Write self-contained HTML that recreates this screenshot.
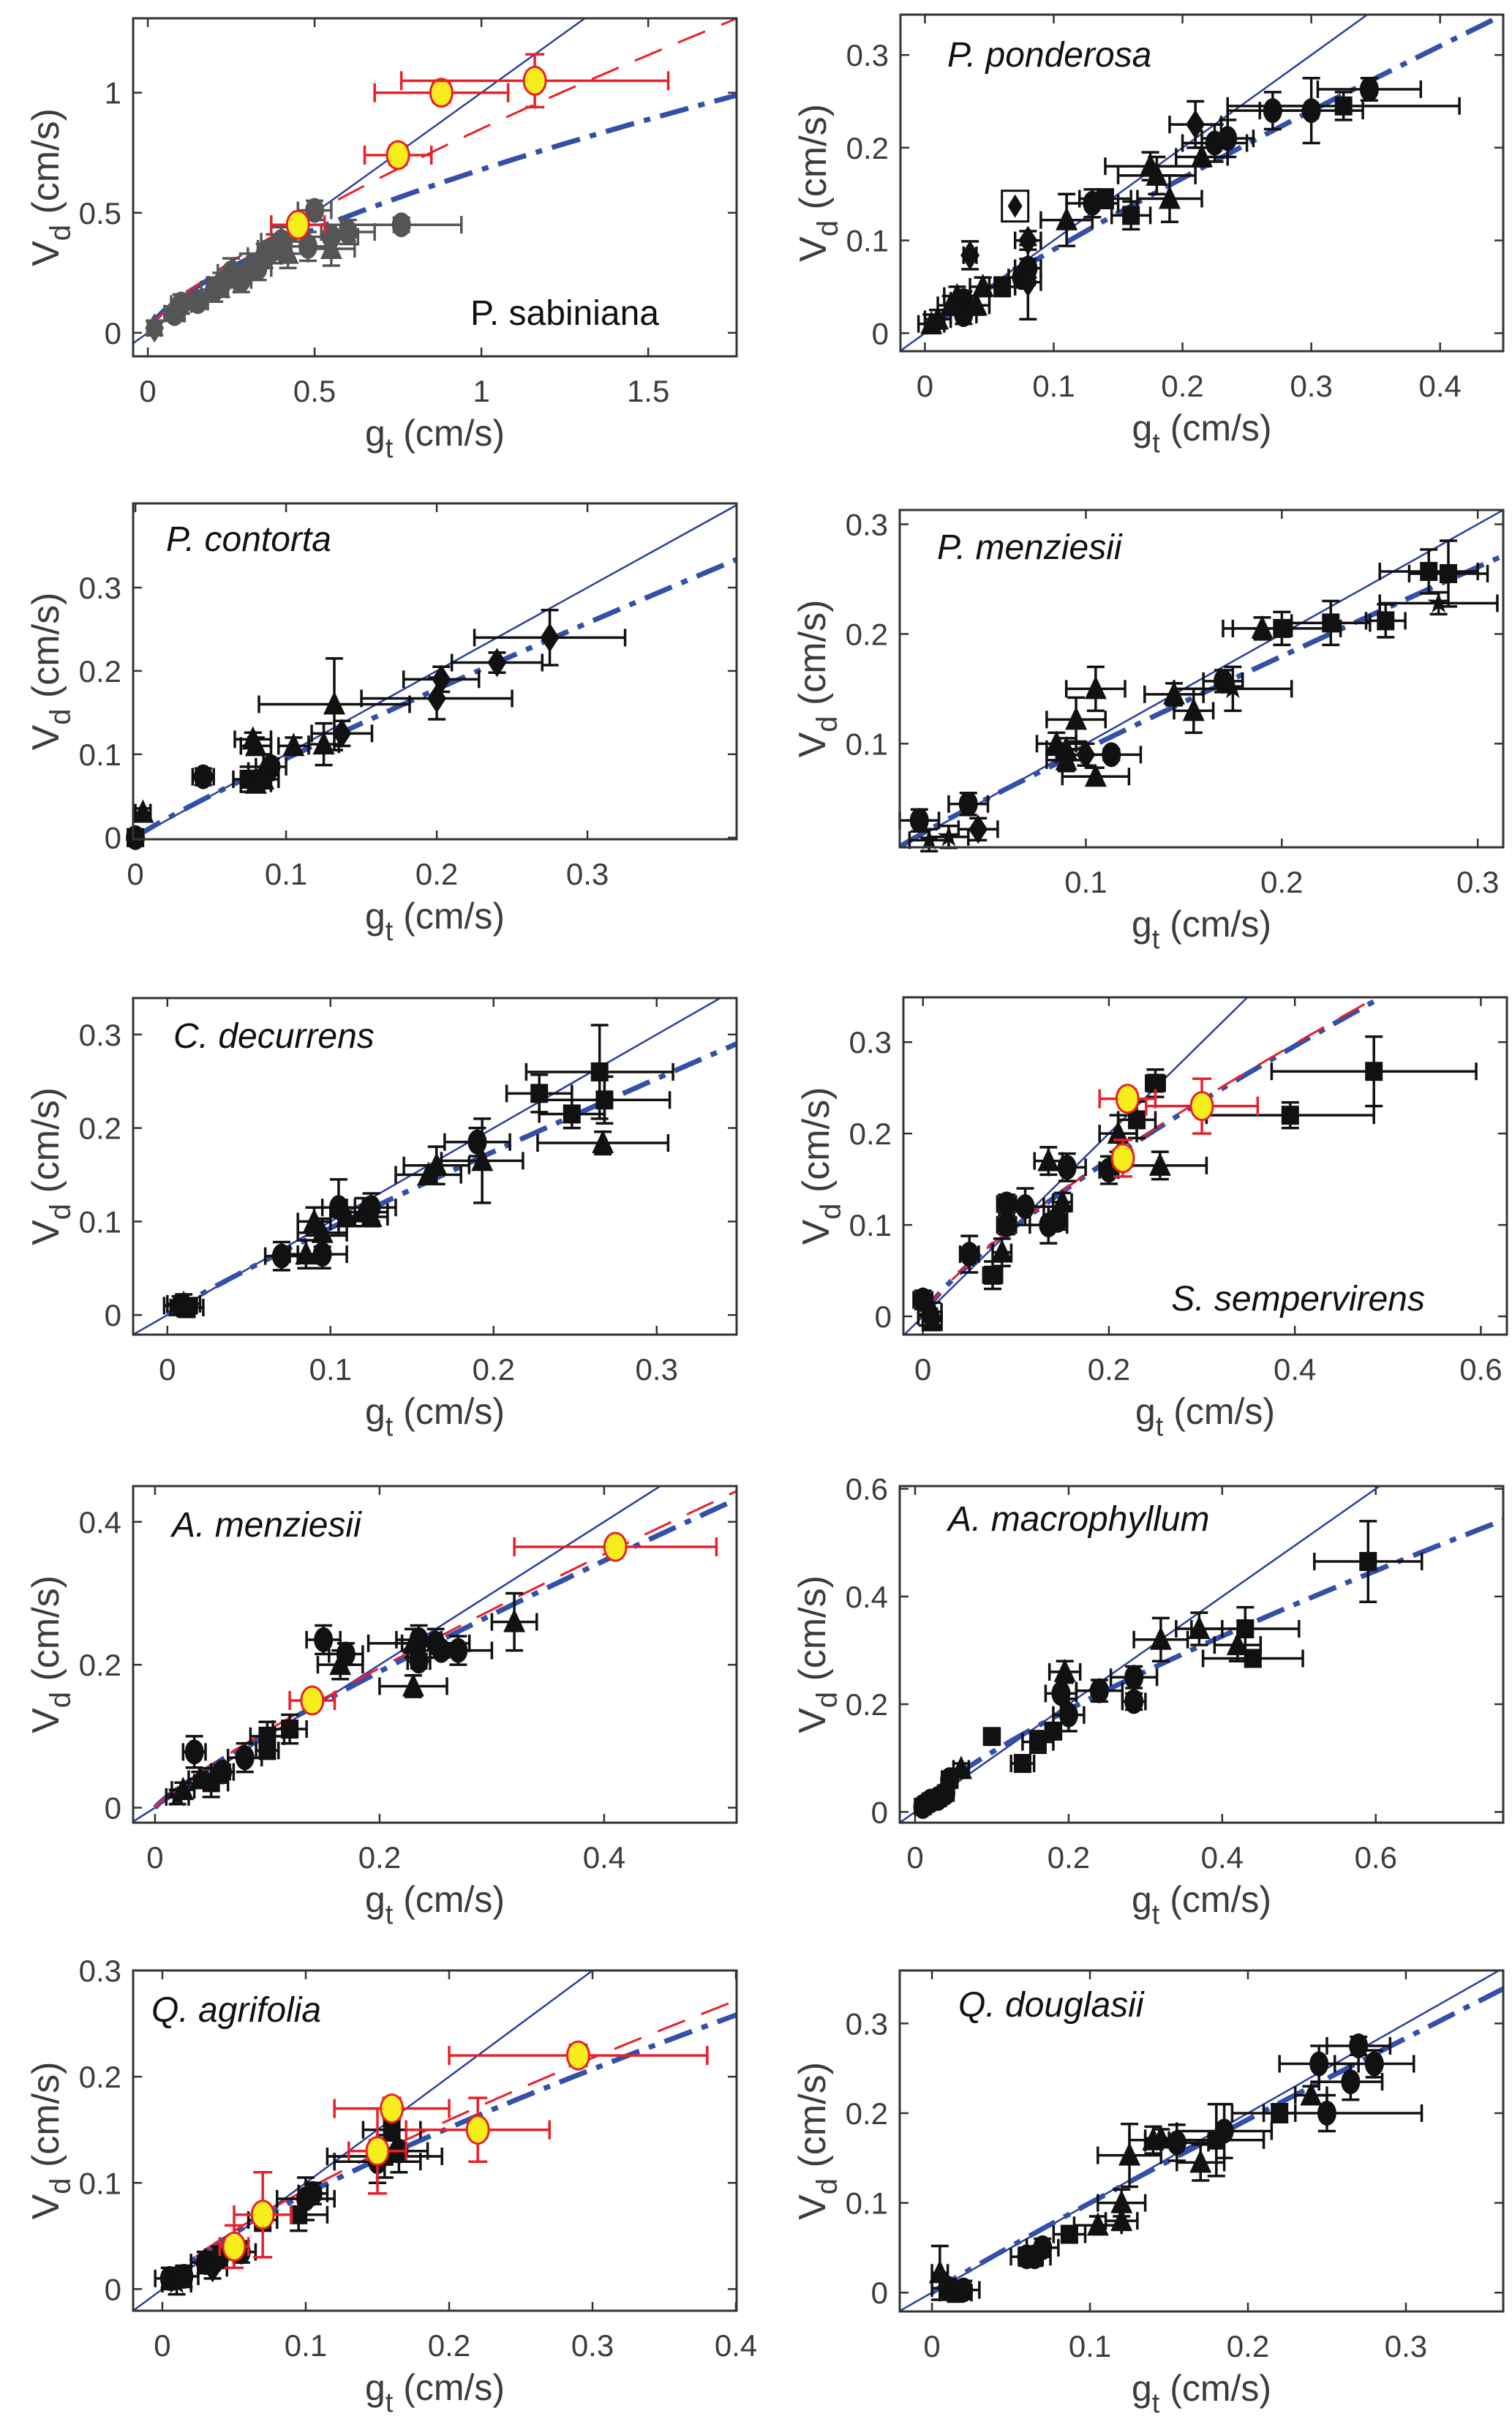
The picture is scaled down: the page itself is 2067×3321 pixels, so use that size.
<!DOCTYPE html>
<html><head><meta charset="utf-8"><style>
html,body{margin:0;padding:0;background:#fff;}
svg{display:block;}
</style></head><body>
<svg id="fig" width="2067" height="3321" viewBox="0 0 2067 3321" xmlns="http://www.w3.org/2000/svg"></svg>
<script>
// ---------- data (point tuples: x, y, xerr, yerr, marker) ----------
const sabinianaPts = [[0.02,0.02,0.02,0.03,'d'],[0.08,0.08,0.03,0.03,'c'],[0.1,0.12,0.03,0.04,'c'],[0.15,0.13,0.03,0.03,'c'],[0.2,0.18,0.04,0.05,'c'],[0.22,0.2,0.04,0.05,'c'],[0.25,0.25,0.04,0.06,'c'],[0.28,0.22,0.03,0.05,'c'],[0.3,0.28,0.04,0.05,'t'],[0.33,0.27,0.04,0.05,'c'],[0.35,0.32,0.05,0.05,'c'],[0.38,0.35,0.05,0.06,'c'],[0.4,0.38,0.06,0.06,'c'],[0.42,0.33,0.06,0.06,'t'],[0.48,0.36,0.07,0.06,'c'],[0.5,0.51,0.05,0.04,'c'],[0.55,0.4,0.08,0.05,'c'],[0.55,0.35,0.07,0.07,'t'],[0.6,0.42,0.08,0.05,'c'],[0.76,0.45,0.18,0.03,'c']];
const sabinianaRed = [[0.45,0.45,0.08,0.03],[0.75,0.74,0.1,0.04],[0.88,1.0,0.2,0.04],[1.16,1.05,0.4,0.11]];
const ponderosaPts = [[0.005,0.01,0.01,0.01,'t'],[0.01,0.015,0.01,0.01,'t'],[0.02,0.03,0.01,0.01,'t'],[0.025,0.04,0.01,0.01,'t'],[0.03,0.035,0.01,0.01,'c'],[0.03,0.02,0.01,0.01,'c'],[0.035,0.084,0.005,0.015,'d'],[0.04,0.03,0.01,0.01,'t'],[0.045,0.05,0.01,0.01,'t'],[0.06,0.05,0.01,0.01,'s'],[0.075,0.06,0.01,0.01,'c'],[0.08,0.07,0.01,0.01,'c'],[0.08,0.1,0.01,0.01,'d'],[0.08,0.055,0.01,0.04,'d'],[0.11,0.122,0.02,0.028,'t'],[0.13,0.14,0.02,0.015,'c'],[0.14,0.145,0.02,0.01,'s'],[0.16,0.127,0.015,0.015,'s'],[0.175,0.18,0.035,0.015,'t'],[0.18,0.17,0.03,0.02,'t'],[0.19,0.145,0.025,0.025,'t'],[0.21,0.225,0.02,0.025,'d'],[0.215,0.19,0.02,0.01,'t'],[0.225,0.205,0.025,0.02,'c'],[0.235,0.21,0.02,0.02,'c'],[0.27,0.24,0.035,0.02,'c'],[0.3,0.24,0.04,0.035,'c'],[0.325,0.245,0.09,0.015,'s'],[0.345,0.263,0.04,0.012,'c']];
const ponderosaBoxed = [[0.07,0.137]];
const contortaPts = [[0,0,0.005,0.01,'c'],[0.005,0.03,0.005,0.005,'t'],[0.045,0.073,0.007,0.01,'c'],[0.078,0.118,0.012,0.008,'t'],[0.08,0.11,0.01,0.01,'t'],[0.075,0.07,0.01,0.015,'s'],[0.08,0.065,0.01,0.01,'t'],[0.085,0.08,0.01,0.02,'t'],[0.09,0.085,0.01,0.01,'c'],[0.085,0.07,0.01,0.01,'t'],[0.105,0.11,0.01,0.01,'t'],[0.125,0.112,0.01,0.025,'t'],[0.132,0.16,0.05,0.055,'t'],[0.137,0.125,0.02,0.015,'d'],[0.2,0.167,0.05,0.025,'d'],[0.203,0.19,0.025,0.015,'d'],[0.24,0.21,0.03,0.012,'d'],[0.275,0.24,0.05,0.033,'d']];
const pmenziesiiPts = [[0.015,0.03,0.01,0.01,'c'],[0.02,0.012,0.01,0.01,'p'],[0.03,0.015,0.01,0.01,'p'],[0.04,0.045,0.01,0.01,'c'],[0.045,0.022,0.01,0.01,'d'],[0.085,0.1,0.01,0.01,'t'],[0.09,0.095,0.01,0.01,'t'],[0.09,0.085,0.01,0.01,'t'],[0.095,0.122,0.015,0.02,'t'],[0.1,0.09,0.015,0.01,'d'],[0.105,0.15,0.015,0.02,'t'],[0.105,0.07,0.017,0.008,'t'],[0.113,0.09,0.015,0.005,'c'],[0.145,0.145,0.015,0.01,'t'],[0.155,0.13,0.01,0.02,'t'],[0.17,0.157,0.01,0.01,'c'],[0.175,0.15,0.03,0.02,'p'],[0.19,0.205,0.015,0.01,'t'],[0.2,0.205,0.03,0.015,'s'],[0.225,0.21,0.02,0.02,'s'],[0.253,0.212,0.01,0.015,'s'],[0.275,0.257,0.025,0.02,'s'],[0.28,0.228,0.03,0.01,'p'],[0.285,0.255,0.02,0.03,'s']];
const decurrensPts = [[0.008,0.01,0.01,0.01,'c'],[0.012,0.008,0.01,0.01,'s'],[0.01,0.012,0.01,0.01,'t'],[0.07,0.063,0.01,0.015,'c'],[0.085,0.065,0.01,0.015,'t'],[0.095,0.065,0.015,0.015,'c'],[0.09,0.1,0.01,0.015,'t'],[0.095,0.088,0.015,0.015,'t'],[0.105,0.115,0.01,0.03,'c'],[0.11,0.105,0.01,0.01,'t'],[0.12,0.11,0.015,0.015,'t'],[0.125,0.115,0.015,0.015,'c'],[0.125,0.105,0.01,0.01,'t'],[0.16,0.15,0.02,0.01,'t'],[0.165,0.16,0.02,0.02,'t'],[0.19,0.185,0.02,0.015,'c'],[0.193,0.165,0.025,0.045,'t'],[0.228,0.237,0.02,0.02,'s'],[0.248,0.215,0.02,0.015,'s'],[0.265,0.26,0.045,0.05,'s'],[0.268,0.23,0.04,0.025,'s'],[0.267,0.184,0.04,0.012,'t']];
const sempervirensPts = [[0,0.018,0.01,0.01,'c'],[0.005,0,0.01,0.01,'p'],[0.01,-0.005,0.01,0.01,'t'],[0.01,0.005,0.01,0.01,'t'],[0.05,0.068,0.01,0.02,'c'],[0.075,0.045,0.01,0.015,'s'],[0.085,0.07,0.01,0.015,'t'],[0.09,0.123,0.01,0.01,'c'],[0.09,0.1,0.01,0.01,'c'],[0.11,0.12,0.02,0.02,'c'],[0.135,0.17,0.015,0.015,'t'],[0.135,0.1,0.02,0.02,'c'],[0.145,0.105,0.01,0.01,'c'],[0.15,0.125,0.01,0.01,'t'],[0.155,0.163,0.02,0.015,'c'],[0.2,0.16,0.01,0.015,'c'],[0.21,0.2,0.02,0.02,'t'],[0.23,0.215,0.02,0.02,'s'],[0.255,0.165,0.05,0.015,'t'],[0.25,0.255,0.01,0.015,'s'],[0.395,0.22,0.09,0.014,'s'],[0.485,0.268,0.11,0.038,'s']];
const sempervirensRed = [[0.22,0.238,0.03,0.01],[0.215,0.173,0.01,0.02],[0.3,0.23,0.06,0.03]];
const amenziesiiPts = [[0.02,0.015,0.01,0.01,'p'],[0.025,0.025,0.01,0.01,'t'],[0.035,0.078,0.01,0.022,'c'],[0.04,0.04,0.01,0.01,'t'],[0.05,0.035,0.015,0.02,'s'],[0.06,0.05,0.01,0.01,'c'],[0.08,0.07,0.015,0.02,'c'],[0.1,0.1,0.015,0.02,'s'],[0.1,0.08,0.01,0.01,'s'],[0.12,0.11,0.015,0.02,'s'],[0.15,0.235,0.015,0.02,'c'],[0.165,0.2,0.02,0.02,'t'],[0.17,0.215,0.015,0.015,'c'],[0.23,0.17,0.03,0.015,'t'],[0.23,0.23,0.04,0.02,'t'],[0.235,0.235,0.02,0.02,'c'],[0.235,0.205,0.01,0.01,'c'],[0.25,0.23,0.03,0.02,'c'],[0.255,0.22,0.01,0.01,'c'],[0.27,0.22,0.03,0.02,'c'],[0.32,0.26,0.02,0.04,'t']];
const amenziesiiRed = [[0.14,0.15,0.02,0.01],[0.41,0.365,0.09,0.01]];
const macrophyllumPts = [[0.01,0.01,0.01,0.01,'c'],[0.02,0.02,0.01,0.01,'c'],[0.03,0.025,0.01,0.01,'c'],[0.04,0.035,0.01,0.01,'c'],[0.045,0.06,0.01,0.015,'c'],[0.06,0.08,0.01,0.01,'t'],[0.1,0.14,0.01,0.01,'s'],[0.14,0.09,0.015,0.01,'s'],[0.16,0.13,0.02,0.02,'s'],[0.18,0.15,0.01,0.01,'s'],[0.19,0.22,0.02,0.04,'c'],[0.195,0.26,0.02,0.02,'t'],[0.2,0.18,0.02,0.03,'c'],[0.24,0.225,0.03,0.02,'c'],[0.285,0.205,0.015,0.015,'c'],[0.285,0.25,0.03,0.02,'c'],[0.32,0.32,0.035,0.04,'t'],[0.37,0.34,0.03,0.03,'t'],[0.42,0.31,0.03,0.03,'t'],[0.43,0.34,0.07,0.04,'s'],[0.44,0.285,0.065,0.015,'s'],[0.59,0.465,0.07,0.075,'s']];
const agrifoliaPts = [[0.005,0.01,0.01,0.01,'c'],[0.01,0.005,0.01,0.01,'p'],[0.015,0.012,0.01,0.01,'c'],[0.03,0.025,0.01,0.01,'c'],[0.035,0.02,0.01,0.01,'d'],[0.04,0.03,0.01,0.01,'c'],[0.055,0.035,0.01,0.01,'c'],[0.07,0.065,0.01,0.01,'s'],[0.095,0.07,0.02,0.015,'s'],[0.1,0.085,0.02,0.02,'c'],[0.105,0.09,0.01,0.01,'c'],[0.15,0.12,0.03,0.02,'c'],[0.155,0.125,0.04,0.02,'s'],[0.16,0.15,0.02,0.01,'s'],[0.165,0.13,0.02,0.02,'c']];
const agrifoliaRed = [[0.05,0.04,0.01,0.02],[0.07,0.07,0.02,0.04],[0.15,0.13,0.02,0.04],[0.16,0.17,0.04,0.01],[0.22,0.15,0.05,0.03],[0.29,0.22,0.09,0.01]];
const douglasiiPts = [[0.005,0.022,0.005,0.03,'t'],[0.01,0.005,0.01,0.01,'c'],[0.015,0,0.01,0.01,'s'],[0.02,0.003,0.01,0.01,'c'],[0.06,0.04,0.01,0.01,'c'],[0.065,0.04,0.01,0.01,'c'],[0.07,0.05,0.01,0.01,'c'],[0.087,0.065,0.01,0.008,'s'],[0.105,0.075,0.015,0.01,'t'],[0.12,0.1,0.015,0.015,'t'],[0.12,0.08,0.01,0.01,'t'],[0.125,0.153,0.02,0.035,'t'],[0.14,0.17,0.015,0.015,'t'],[0.145,0.172,0.01,0.01,'t'],[0.155,0.167,0.02,0.02,'c'],[0.17,0.145,0.015,0.02,'t'],[0.18,0.17,0.03,0.04,'s'],[0.185,0.18,0.03,0.03,'c'],[0.22,0.2,0.01,0.01,'s'],[0.24,0.22,0.01,0.01,'t'],[0.245,0.255,0.025,0.02,'c'],[0.25,0.2,0.06,0.02,'c'],[0.265,0.235,0.02,0.02,'c'],[0.27,0.275,0.02,0.01,'c'],[0.28,0.255,0.025,0.015,'c']];
// fitted curves y = a * x^b  [a, b]
const blueFits = [[0.68,0.66],[0.70,0.89],[0.77,0.91],[0.79,0.92],[0.756,0.91],[0.61,0.79],[0.76,0.86],[0.667,0.78],[0.52,0.765],[0.89,0.95]];
const redFits = [[0.85,0.76],null,null,null,null,[0.615,0.79],[0.78,0.86],null,[0.55,0.77],null];
const speciesNames = ['P. sabiniana','P. ponderosa','P. contorta','P. menziesii','C. decurrens','S. sempervirens','A. menziesii','A. macrophyllum','Q. agrifolia','Q. douglasii'];
const xTicks = [[0,0.5,1,1.5],[0,0.1,0.2,0.3,0.4],[0,0.1,0.2,0.3],[0.1,0.2,0.3],[0,0.1,0.2,0.3],[0,0.2,0.4,0.6],[0,0.2,0.4],[0,0.2,0.4,0.6],[0,0.1,0.2,0.3,0.4],[0,0.1,0.2,0.3]];
const yTicks = [[0,0.5,1],[0,0.1,0.2,0.3],[0,0.1,0.2,0.3],[0.1,0.2,0.3],[0,0.1,0.2,0.3],[0,0.1,0.2,0.3],[0,0.2,0.4],[0,0.2,0.4,0.6],[0,0.1,0.2,0.3],[0,0.1,0.2,0.3]];
const xDomains = [[-0.044,1.765],[-0.019,0.449],[-0.0015,0.399],[0.005,0.313],[-0.021,0.349],[-0.021,0.628],[-0.0195,0.518],[-0.02,0.766],[-0.0204,0.4005],[-0.0204,0.3616]];
const yDomains = [[-0.098,1.31],[-0.0195,0.3435],[-0.002,0.401],[0.0055,0.313],[-0.021,0.339],[-0.02,0.349],[-0.021,0.45],[-0.02,0.605],[-0.0204,0.300],[-0.021,0.359]];
const pointSets = [sabinianaPts,ponderosaPts,contortaPts,pmenziesiiPts,decurrensPts,sempervirensPts,amenziesiiPts,macrophyllumPts,agrifoliaPts,douglasiiPts];
const redSets = [sabinianaRed,null,null,null,null,sempervirensRed,amenziesiiRed,null,agrifoliaRed,null];

// ---------- layout (pixels) ----------
const boxes = [[182,1007,25,487],[1231,2055,20,480],[182,1007,688,1147],[1230,2055,697,1158],[182,1007,1364,1824],[1235,2060,1363,1824],[182,1007,2031,2491],[1230,2055,2031,2491],[182,1007,2693,3158],[1230,2055,2693,3159]];
const labelPos = [[643,444,false,'start'],[1295,91,true,'start'],[227,753,true,'start'],[1281,764,true,'start'],[237,1432,true,'start'],[1948,1791,true,'end'],[235,2100,true,'start'],[1296,2092,true,'start'],[207,2763,true,'start'],[1310,2756,true,'start']];

const NS='http://www.w3.org/2000/svg';
const svg=document.getElementById('fig');
function mk(tag,attrs,parent){const e=document.createElementNS(NS,tag);for(const k in attrs)e.setAttribute(k,attrs[k]);(parent||svg).appendChild(e);return e;}
function fmt(v){return String(v);}

for(let i=0;i<10;i++){
  const [L,R,T,B]=boxes[i];const [x0,x1]=xDomains[i];const [y0,y1]=yDomains[i];
  const sx=v=>L+(v-x0)/(x1-x0)*(R-L);
  const sy=v=>B-(v-y0)/(y1-y0)*(B-T);
  const g=mk('g',{});
  
  
  const cp=mk('clipPath',{id:'clip'+i},g);mk('rect',{x:L,y:T,width:R-L,height:B-T},cp);
  xTicks[i].forEach(v=>{const x=sx(v);
    const t1=mk('line',{x1:x,x2:x,y1:B,y2:B-12,stroke:'#333','stroke-width':2.5},g);
    
    mk('line',{x1:x,x2:x,y1:T,y2:T+12,stroke:'#333','stroke-width':2.5},g);
    const tl=mk('text',{x:x,y:B+62,'text-anchor':'middle','font-family':'Liberation Sans, sans-serif','font-size':42,fill:'#3c3c3c'},g);
    tl.textContent=fmt(v);});
  yTicks[i].forEach(v=>{const y=sy(v);
    mk('line',{x1:L,x2:L+12,y1:y,y2:y,stroke:'#333','stroke-width':2.5},g);
    mk('line',{x1:R,x2:R-12,y1:y,y2:y,stroke:'#333','stroke-width':2.5},g);
    const tl=mk('text',{x:L-16,y:y+15,'text-anchor':'end','font-family':'Liberation Sans, sans-serif','font-size':42,fill:'#3c3c3c'},g);
    tl.textContent=fmt(v);});
  const xl=mk('text',{x:(L+R)/2,y:B+122,'text-anchor':'middle','font-family':'Liberation Sans, sans-serif','font-size':50,fill:'#3c3c3c'},g);
  
  xl.innerHTML='g<tspan font-size="38" dy="16">t</tspan><tspan dy="-16"> (cm/s)</tspan>';
  const yl=mk('text',{x:0,y:0,'text-anchor':'middle','font-family':'Liberation Sans, sans-serif','font-size':52,fill:'#3c3c3c',transform:`translate(${L-102},${(T+B)/2}) rotate(-90)`},g);
  
  yl.innerHTML='V<tspan font-size="40" dy="16">d</tspan><tspan dy="-16"> (cm/s)</tspan>';
  const lg=mk('g',{'clip-path':`url(#clip${i})`},g);
  const one=mk('line',{x1:sx(x0),y1:sy(x0),x2:sx(x1),y2:sy(x1),stroke:'#2a3f9e','stroke-width':2.5},lg);
  
  const curve=(ab)=>{let d='';for(let k=0;k<=120;k++){const x=Math.max(0,x0)+(x1-Math.max(0,x0))*k/120;const y=ab[0]*Math.pow(x,ab[1]);d+=(k?'L':'M')+sx(x).toFixed(1)+' '+sy(y).toFixed(1);}return d;};
  const bl=mk('path',{d:curve(blueFits[i]),fill:'none',stroke:'#3350a8','stroke-width':7,'stroke-dasharray':'40 14 9 14'},lg);
  
  if(redFits[i]){const rl=mk('path',{d:curve(redFits[i]),fill:'none',stroke:'#e8202a','stroke-width':3,'stroke-dasharray':'40 24'},lg);
    }
  const col=i===0?'#555':'#111';
  const drawErr=(x,y,xe,ye,c,cap)=>{
    const eg=mk('g',{stroke:c,'stroke-width':3.5},g);
    mk('line',{x1:sx(x-xe),x2:sx(x+xe),y1:sy(y),y2:sy(y)},eg);
    mk('line',{x1:sx(x),x2:sx(x),y1:sy(y-ye),y2:sy(y+ye)},eg);
    [x-xe,x+xe].forEach(v=>mk('line',{x1:sx(v),x2:sx(v),y1:sy(y)-cap,y2:sy(y)+cap},eg));
    [y-ye,y+ye].forEach(v=>mk('line',{x1:sx(x)-cap,x2:sx(x)+cap,y1:sy(v),y2:sy(v)},eg));
  };
  pointSets[i].forEach(p=>{
    const [x,y,xe,ye,m]=p;drawErr(x,y,xe,ye,col,12);
    const X=sx(x),Y=sy(y);let e;
    if(m==='c')e=mk('ellipse',{cx:X,cy:Y,rx:13,ry:17,fill:col},g);
    else if(m==='t')e=mk('polygon',{points:`${X-15},${Y+14} ${X+15},${Y+14} ${X},${Y-18}`,fill:col},g);
    else if(m==='s')e=mk('rect',{x:X-12,y:Y-13,width:24,height:26,fill:col},g);
    else if(m==='d')e=mk('polygon',{points:`${X},${Y-20} ${X+13},${Y} ${X},${Y+20} ${X-13},${Y}`,fill:col},g);
    else {let pts='';for(let k=0;k<10;k++){const r=k%2?6:16;const a=-Math.PI/2+k*Math.PI/5;pts+=(X+r*Math.cos(a)).toFixed(1)+','+(Y+r*Math.sin(a)).toFixed(1)+' ';}e=mk('polygon',{points:pts,fill:col},g);}
    
  });
  if(i===1){ponderosaBoxed.forEach(p=>{const X=sx(p[0]),Y=sy(p[1]);
    mk('rect',{x:X-18,y:Y-21,width:36,height:42,fill:'#fff',stroke:'#111','stroke-width':3},g);
    const e=mk('polygon',{points:`${X},${Y-16} ${X+10},${Y} ${X},${Y+16} ${X-10},${Y}`,fill:'#111'},g);
    });}
  if(redSets[i]){redSets[i].forEach(p=>{const [x,y,xe,ye]=p;drawErr(x,y,xe,ye,'#e8202a',13);
    const e=mk('ellipse',{cx:sx(x),cy:sy(y),rx:15,ry:19,fill:'#f5ee1c',stroke:'#e8202a','stroke-width':3},g);
    });}
  const bx=mk('rect',{x:L,y:T,width:R-L,height:B-T,fill:'none',stroke:'#333','stroke-width':3},g);
  
  const [lx,ly,it,anc]=labelPos[i];
  const sl=mk('text',{x:lx,y:ly,'text-anchor':anc,'font-family':'Liberation Sans, sans-serif','font-size':48,fill:'#111'},g);
  if(it)sl.setAttribute('font-style','italic');
  sl.textContent=speciesNames[i];
  
  
}
</script>
</body></html>
